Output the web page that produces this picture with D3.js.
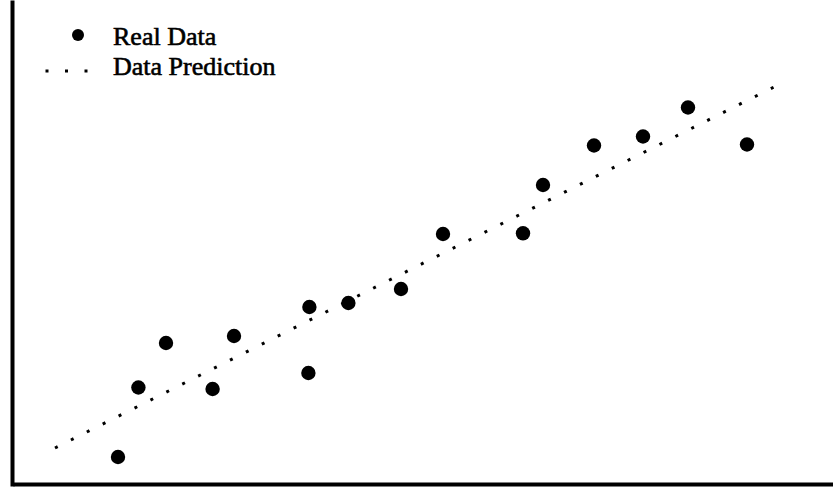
<!DOCTYPE html>
<html><head><meta charset="utf-8">
<script src="https://cdn.jsdelivr.net/npm/d3@7/dist/d3.min.js"></script>
<style>html,body{margin:0;padding:0;background:#fff;}svg{display:block;}</style>
</head><body>
<script>
// Real data (x, y) in chart units
const realX = [5.25, 6.27, 7.65, 9.98, 11.05, 14.77, 14.82, 16.77, 19.4, 21.5, 25.5, 26.5, 29.05, 31.5, 33.75, 36.7];
const realY = [2.6, 9.55, 14.0, 9.4, 14.7, 11.0, 17.6, 18.0, 19.4, 24.9, 24.97, 29.8, 33.75, 34.65, 37.55, 33.85];
// Prediction line endpoints
const predX = [2.1, 38.05];
const predY = [3.5, 39.6];
const legendLabels = ["Real Data", "Data Prediction"];

const W = 833, H = 487;
const svg = d3.select("body").append("svg").attr("width", W).attr("height", H);

const x = d3.scaleLinear().domain([0, 41]).range([13, 833]);
const y = d3.scaleLinear().domain([0, 48.3]).range([483, 0]);

// axes (no ticks)
svg.append("g").attr("transform", "translate(0,484)")
  .call(d3.axisBottom(x).ticks(0).tickSize(0).tickFormat(""))
  .call(g => g.select(".domain").attr("stroke", "#000").attr("stroke-width", 4));
svg.append("g").attr("transform", "translate(12,0)")
  .call(d3.axisLeft(y.copy().range([486, 0])).ticks(0).tickSize(0).tickFormat(""))
  .call(g => g.select(".domain").attr("stroke", "#000").attr("stroke-width", 4));

// prediction dotted line
const pred = predX.map((d, i) => [d, predY[i]]);
svg.append("path").datum(pred)
  .attr("d", d3.line().x(d => x(d[0])).y(d => y(d[1])))
  .attr("fill", "none").attr("stroke", "#000").attr("stroke-width", 3)
  .attr("stroke-dasharray", "3,14.8");

// real data points
svg.selectAll("circle.real").data(realX.map((d, i) => [d, realY[i]])).enter()
  .append("circle").attr("class", "real")
  .attr("cx", d => x(d[0])).attr("cy", d => y(d[1])).attr("r", 7.2).attr("fill", "#000");

// legend
const lg = svg.append("g");
lg.append("circle").attr("cx", 78).attr("cy", 35).attr("r", 6).attr("fill", "#000");
lg.append("line").attr("x1", 45.5).attr("x2", 88).attr("y1", 71).attr("y2", 71)
  .attr("stroke", "#000").attr("stroke-width", 3).attr("stroke-dasharray", "3,16.5");
lg.selectAll("text").data(legendLabels).enter().append("text")
  .attr("x", 113).attr("y", (d, i) => 45 + i * 30)
  .attr("font-family", "Liberation Serif, Times New Roman, serif")
  .attr("font-size", 26).attr("fill", "#000")
  .attr("stroke", "#000").attr("stroke-width", 0.6)
  .text(d => d);
</script>
</body></html>
